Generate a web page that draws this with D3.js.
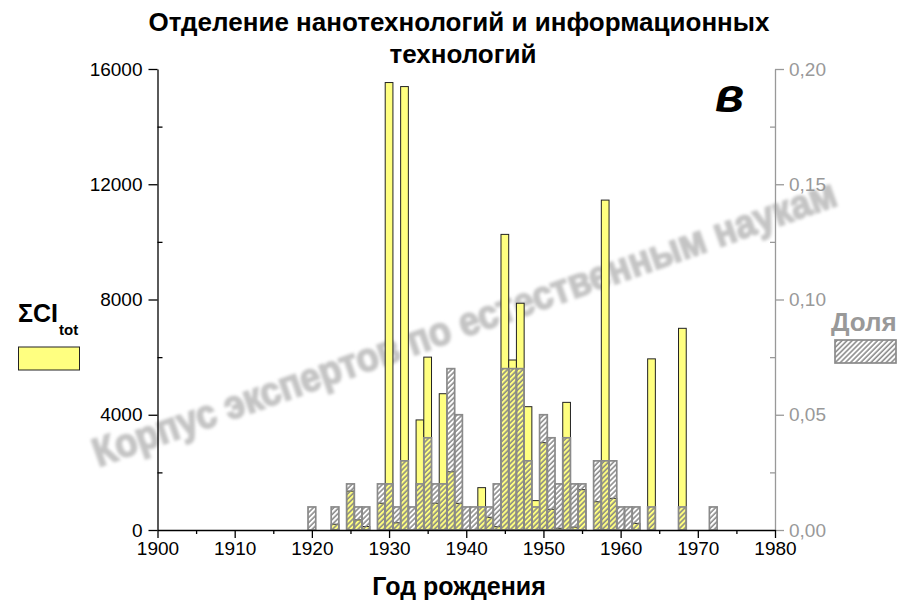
<!DOCTYPE html>
<html>
<head>
<meta charset="utf-8">
<script src="https://cdn.jsdelivr.net/npm/d3@7"></script>
<style>
  html, body { margin: 0; padding: 0; background: #fff; }
  svg { display: block; }
</style>
</head>
<body>
<svg id="chart" width="904" height="616"></svg>
<script>
(function () {
  // birth year of the academicians
  const years = [1920, 1923, 1925, 1926, 1927, 1929, 1930, 1931, 1932, 1933, 1934, 1935, 1936, 1937,
    1938, 1939, 1940, 1941, 1942, 1943, 1944, 1945, 1946, 1947, 1948, 1949, 1950, 1951, 1952,
    1953, 1954, 1955, 1957, 1958, 1959, 1960, 1961, 1962, 1964, 1968, 1972];
  // ΣCI_tot per year (left axis)
  const citations = [0, 200, 1350, 350, 120, 930, 15530, 250, 15390, 0, 3820, 6000, 930, 4730,
    2020, 925, 0, 0, 1470, 440, 115, 10260, 5900, 7870, 4280, 1020, 3030, 720, 60,
    4430, 100, 1400, 980, 11450, 1100, 0, 0, 230, 5940, 7000, 0];
  // share per year (right axis)
  const shares = [0.01, 0.01, 0.02, 0.01, 0.01, 0.02, 0.02, 0.01, 0.03, 0.01, 0.02, 0.04, 0.02, 0.02,
    0.07, 0.05, 0.01, 0.01, 0.01, 0.01, 0.02, 0.07, 0.07, 0.07, 0.03, 0.01, 0.05, 0.04, 0.02,
    0.04, 0.02, 0.02, 0.03, 0.03, 0.03, 0.01, 0.01, 0.01, 0.01, 0.01, 0.01];

  const xTicks = [1900, 1910, 1920, 1930, 1940, 1950, 1960, 1970, 1980];
  const xMinor = [1905, 1915, 1925, 1935, 1945, 1955, 1965, 1975];
  const leftTicks = [0, 4000, 8000, 12000, 16000];
  const leftMinor = [2000, 6000, 10000, 14000];
  const rightTicks = [0, 0.05, 0.10, 0.15, 0.20];
  const rightMinor = [0.025, 0.075, 0.125, 0.175];

  const rows = years.map((y, i) => ({ year: y, cit: citations[i], share: shares[i] }));

  const svg = d3.select('#chart');
  const plot = { left: 157.5, right: 775, top: 69, bottom: 530 };
  const boldFont = 'Liberation Sans, Arial, sans-serif';

  const x = d3.scaleLinear().domain([1900, 1980]).range([plot.left, plot.right]);
  const yL = d3.scaleLinear().domain([0, 16000]).range([plot.bottom, plot.top]);
  const yR = d3.scaleLinear().domain([0, 0.20]).range([plot.bottom, plot.top]);

  const defs = svg.append('defs');
  const pat = defs.append('pattern')
    .attr('id', 'hatch')
    .attr('patternUnits', 'userSpaceOnUse')
    .attr('width', 3.6).attr('height', 8)
    .attr('patternTransform', 'rotate(45)');
  pat.append('line')
    .attr('x1', 1).attr('y1', 0).attr('x2', 1).attr('y2', 8)
    .attr('stroke', '#858585').attr('stroke-width', 1.5);

  defs.append('filter').attr('id', 'blur')
    .append('feGaussianBlur').attr('stdDeviation', 1.4);

  // watermark (behind bars)
  svg.append('text')
    .attr('transform', 'translate(469,336) rotate(-19.5)')
    .attr('text-anchor', 'middle')
    .attr('textLength', 786)
    .attr('lengthAdjust', 'spacingAndGlyphs')
    .attr('font-family', boldFont)
    .attr('font-weight', 'bold')
    .attr('font-size', 41)
    .attr('fill', '#c4c4c4')
    .attr('stroke', '#c4c4c4')
    .attr('stroke-width', 1.6)
    .attr('filter', 'url(#blur)')
    .text('Корпус экспертов по естественным наукам');

  // title
  const title = svg.append('text')
    .attr('text-anchor', 'middle')
    .attr('font-family', boldFont)
    .attr('font-weight', 'bold')
    .attr('font-size', 26)
    .attr('fill', '#000');
  title.append('tspan').attr('x', 459).attr('y', 31).text('Отделение нанотехнологий и информационных');
  title.append('tspan').attr('x', 463).attr('y', 63).text('технологий');

  const barW = x(1900.5) - x(1899.5);

  // yellow bars: ΣCI_tot
  svg.append('g').selectAll('rect')
    .data(rows.filter(d => d.cit > 0))
    .join('rect')
    .attr('x', d => x(d.year - 0.5))
    .attr('width', barW)
    .attr('y', d => yL(d.cit))
    .attr('height', d => yL(0) - yL(d.cit))
    .attr('fill', '#ffff80')
    .attr('stroke', '#222')
    .attr('stroke-width', 1);

  // hatched bars: share
  svg.append('g').selectAll('rect')
    .data(rows.filter(d => d.share > 0))
    .join('rect')
    .attr('x', d => x(d.year - 0.5))
    .attr('width', barW)
    .attr('y', d => yR(d.share))
    .attr('height', d => yR(0) - yR(d.share))
    .attr('fill', 'url(#hatch)')
    .attr('stroke', '#8a8a8a')
    .attr('stroke-width', 1.7);

  const tickFont = 'Liberation Sans, Arial, sans-serif';
  const commaFmt = v => d3.format('.2f')(v).replace('.', ',');

  function styleAxis(g, color) {
    g.selectAll('path.domain').attr('stroke', color).attr('stroke-width', 1.3);
    g.selectAll('.tick line').attr('stroke', color).attr('stroke-width', 1.3);
    g.selectAll('.tick text').attr('fill', color)
      .attr('font-family', tickFont).attr('font-size', 19);
  }

  // left axis
  const gL = svg.append('g').attr('transform', `translate(${plot.left},0)`);
  gL.call(d3.axisLeft(yL).tickValues(leftTicks).tickFormat(d3.format('d'))
    .tickSize(9).tickSizeOuter(0).tickPadding(6));
  styleAxis(gL, '#000');
  const gLm = svg.append('g').attr('transform', `translate(${plot.left},0)`);
  gLm.call(d3.axisLeft(yL).tickValues(leftMinor).tickFormat('').tickSize(-5).tickSizeOuter(0));
  gLm.select('path.domain').remove();
  styleAxis(gLm, '#000');

  // right axis
  const gR = svg.append('g').attr('transform', `translate(${plot.right},0)`);
  gR.call(d3.axisRight(yR).tickValues(rightTicks).tickFormat(commaFmt)
    .tickSize(9).tickSizeOuter(0).tickPadding(5));
  styleAxis(gR, '#999');
  const gRm = svg.append('g').attr('transform', `translate(${plot.right},0)`);
  gRm.call(d3.axisRight(yR).tickValues(rightMinor).tickFormat('').tickSize(-5).tickSizeOuter(0));
  gRm.select('path.domain').remove();
  styleAxis(gRm, '#999');

  // bottom axis
  const gX = svg.append('g').attr('transform', `translate(0,${plot.bottom})`);
  gX.call(d3.axisBottom(x).tickValues(xTicks).tickFormat(d3.format('d'))
    .tickSize(8).tickSizeOuter(0).tickPadding(4));
  styleAxis(gX, '#000');
  const gXm = svg.append('g').attr('transform', `translate(0,${plot.bottom})`);
  gXm.call(d3.axisBottom(x).tickValues(xMinor).tickFormat('').tickSize(4).tickSizeOuter(0));
  gXm.select('path.domain').remove();
  styleAxis(gXm, '#000');

  // x axis title
  svg.append('text')
    .attr('x', 459).attr('y', 595)
    .attr('text-anchor', 'middle')
    .attr('font-family', boldFont)
    .attr('font-weight', 'bold')
    .attr('font-size', 25)
    .text('Год рождения');

  // panel letter
  svg.append('text')
    .attr('x', 715).attr('y', 112)
    .attr('font-family', boldFont)
    .attr('font-weight', 'bold')
    .attr('font-style', 'italic')
    .attr('font-size', 48)
    .text('в');

  // left legend: ΣCI_tot
  const lg = svg.append('text')
    .attr('x', 18).attr('y', 322)
    .attr('font-family', boldFont)
    .attr('font-weight', 'bold')
    .attr('font-size', 25);
  lg.append('tspan').text('ΣCI');
  lg.append('tspan').attr('font-size', 15).attr('dx', 1).attr('dy', 13).text('tot');
  svg.append('rect')
    .attr('x', 18.5).attr('y', 347).attr('width', 61).attr('height', 23)
    .attr('fill', '#ffff80').attr('stroke', '#222').attr('stroke-width', 1);

  // right legend: Доля
  svg.append('text')
    .attr('x', 831).attr('y', 331)
    .attr('font-family', boldFont)
    .attr('font-weight', 'bold')
    .attr('font-size', 26)
    .attr('fill', '#999')
    .text('Доля');
  svg.append('rect')
    .attr('x', 835).attr('y', 340).attr('width', 61).attr('height', 23)
    .attr('fill', 'url(#hatch)').attr('stroke', '#8a8a8a').attr('stroke-width', 1.7);
})();
</script>
</body>
</html>
